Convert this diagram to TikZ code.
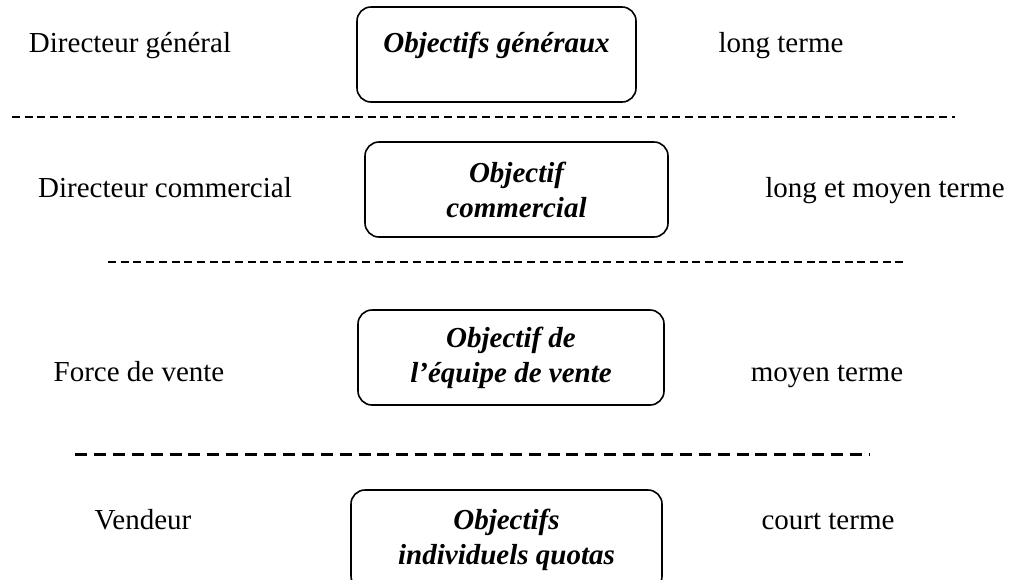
\documentclass[tikz,border=0pt]{standalone}
\usepackage{fontspec}
\setmainfont{Liberation Serif}
\usepackage{tikz}
\usepackage{xcolor}

\begin{document}
\begin{tikzpicture}[x=0.5pt,y=-0.5pt,
  objbox/.style={draw,line width=0.8pt,rounded corners=7pt,inner sep=0pt,
    minimum height=47.5pt,align=center,font=\fontsize{14.5}{17.5}\selectfont\bfseries\itshape},
  side/.style={anchor=base,font=\fontsize{14.5}{17.5}\selectfont},
  septhin/.style={line width=1pt,dash pattern=on 4pt off 2.35pt},
  septhick/.style={line width=1.5pt,dash pattern=on 6pt off 3.45pt}]
\clip (0,0) rectangle (1016,579);
\node [objbox,minimum width=139.5pt,text height=11pt,text depth=13.5pt] (gen) at (496.5,54.5) {Objectifs généraux};
\node [objbox,minimum width=151.5pt] (com) at (516.5,189.5) {Objectif\\commercial};
\node [objbox,minimum width=153pt] (equ) at (511,357.5) {Objectif de\\l’équipe de vente};
\node [objbox,minimum width=155.5pt,minimum height=50pt] (ind) at (506.5,540) {Objectifs\\individuels quotas};
  \foreach \nm/\txt/\xpos/\ypos in {gen/Directeur général/130/52,com/Directeur commercial/165/197,
    equ/Force de vente/139/381,ind/Vendeur/143/529}
  {  \node [side] (who\nm) at (\xpos,\ypos) {\txt};}
  \foreach \nm/\txt/\xpos/\ypos in {gen/long terme/781/52,com/long et moyen terme/885/197,
    equ/moyen terme/827/381,ind/court terme/828/529}
  {  \node [side] (when\nm) at (\xpos,\ypos) {\txt};}
\draw [septhin] (12,117) -- (955,117);
\draw [septhin] (108,262) -- (905,262);
\draw [septhick] (75,454) -- (870,454);
\end{tikzpicture}
\end{document}
